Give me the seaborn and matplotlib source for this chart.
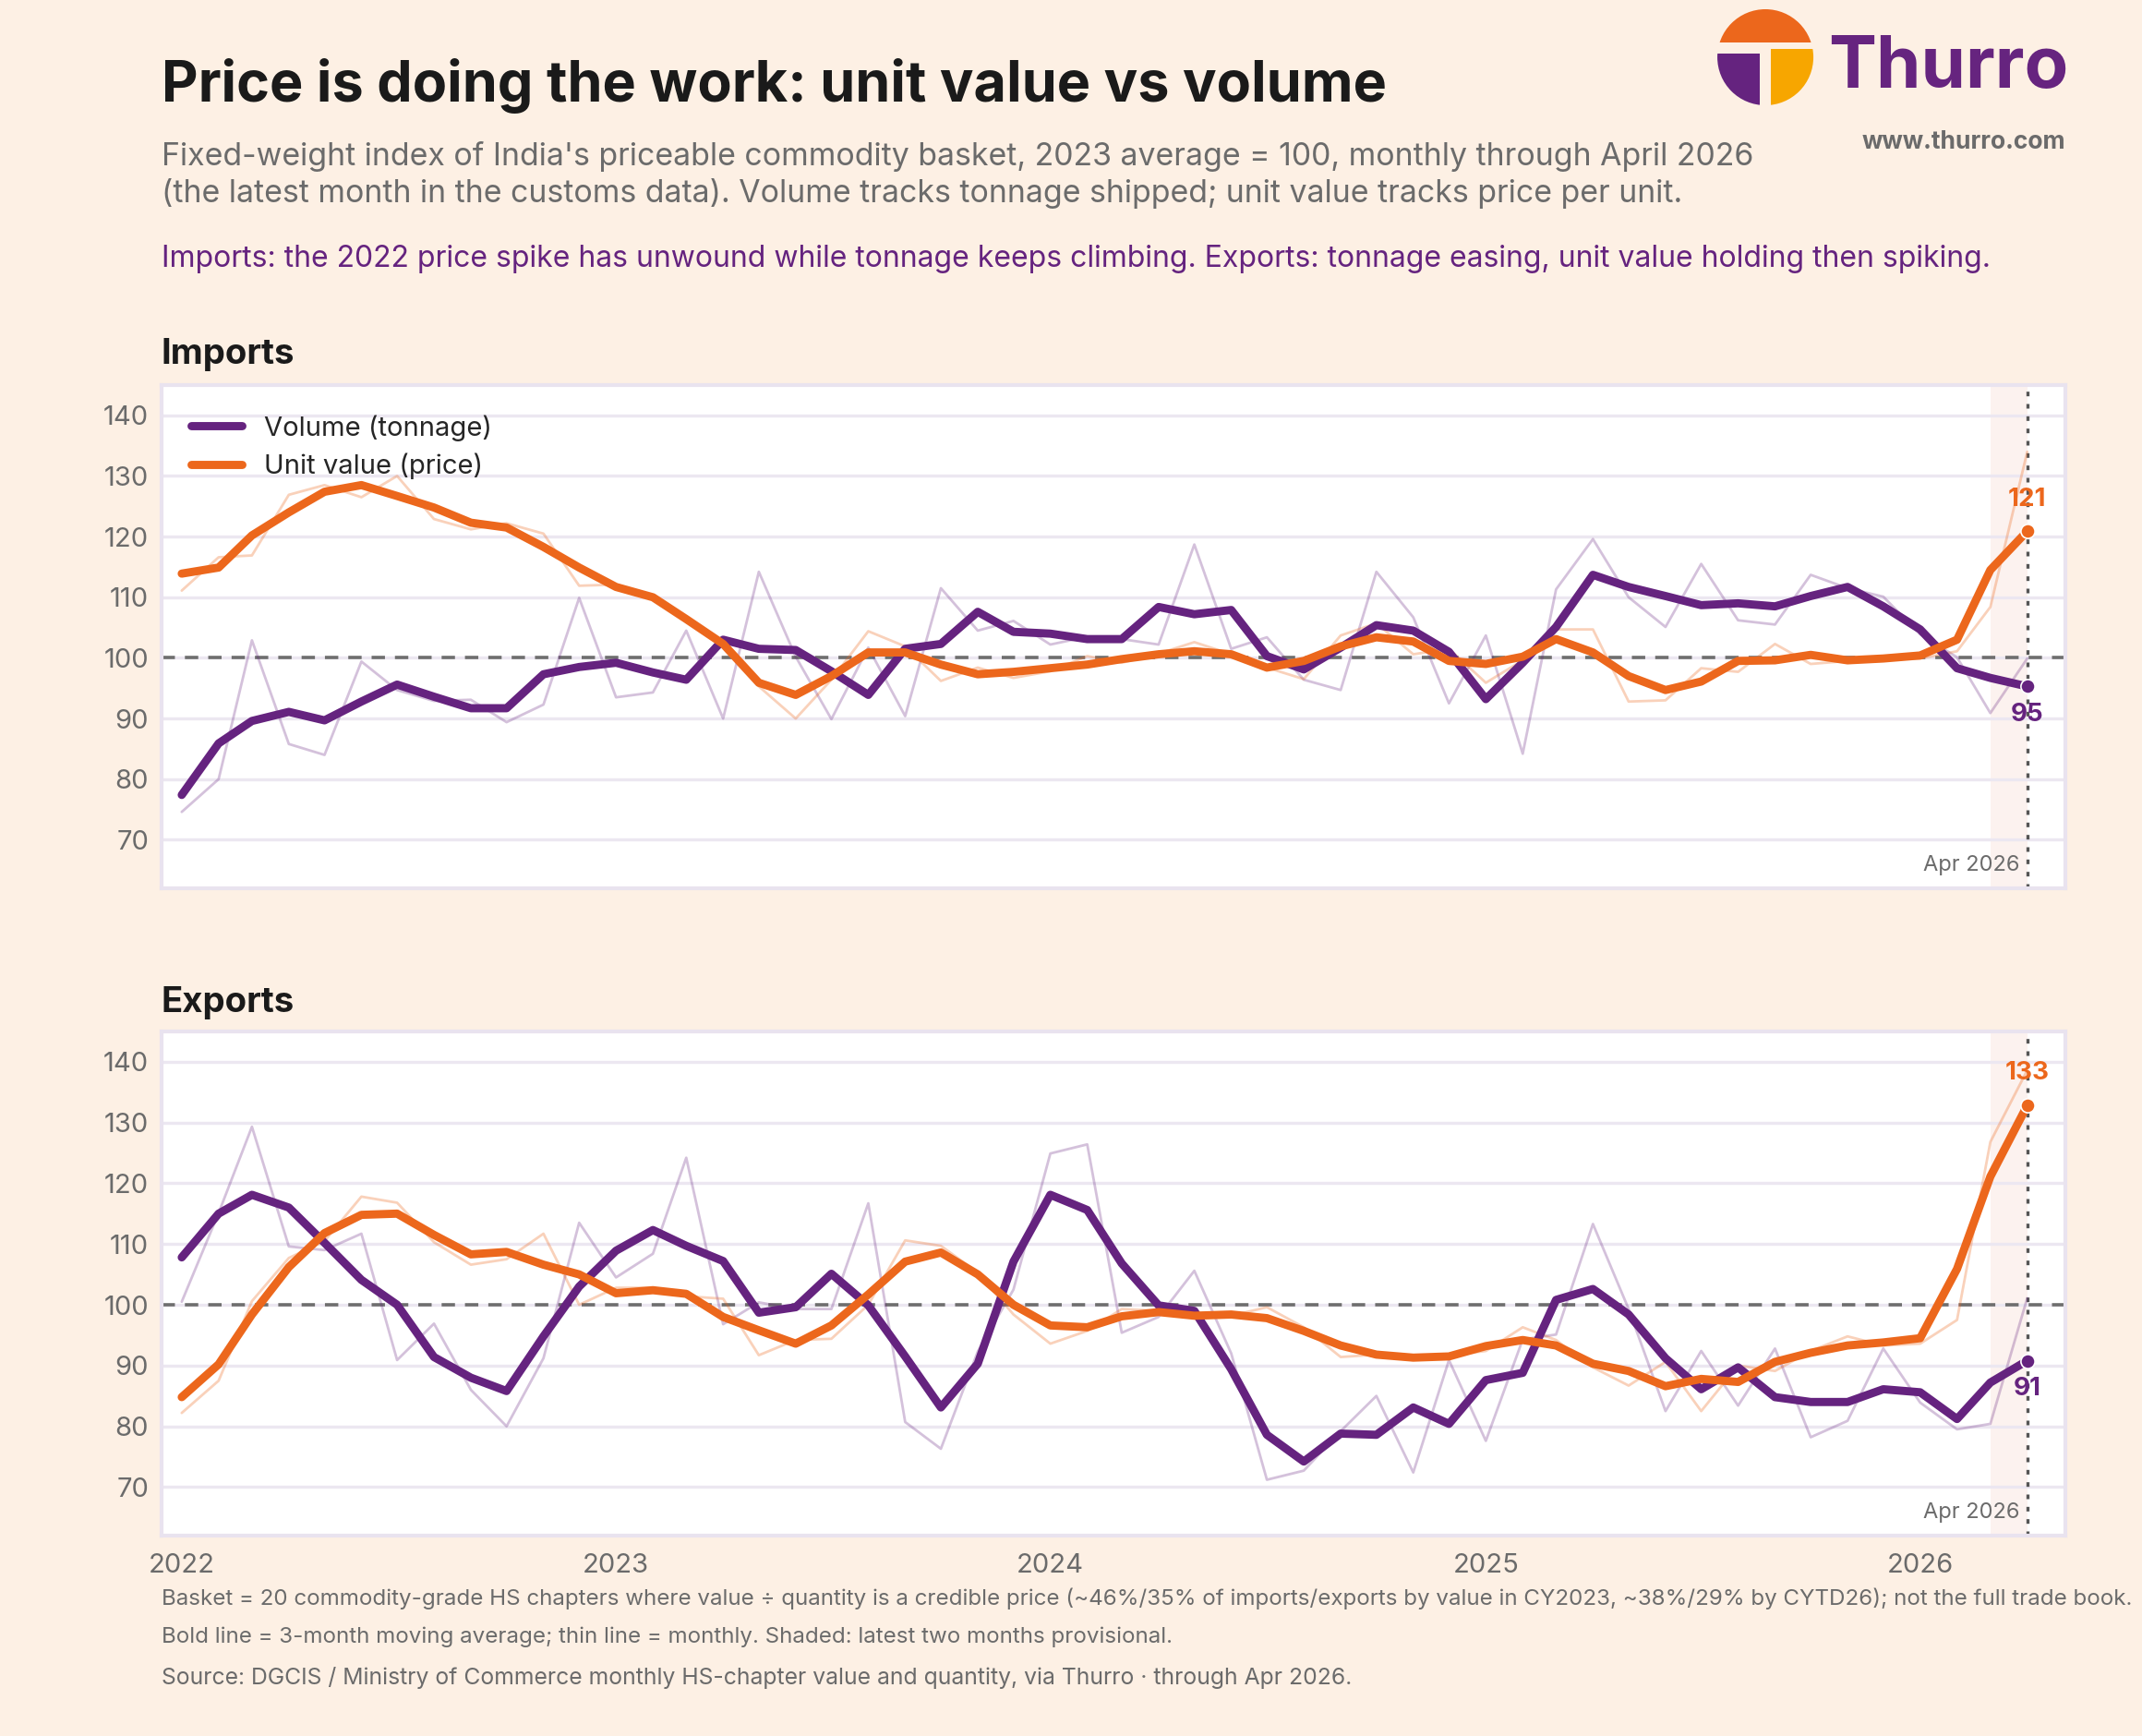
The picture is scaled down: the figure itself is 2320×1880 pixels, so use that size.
import pandas as pd
import matplotlib
matplotlib.use("Agg")
import matplotlib.pyplot as plt
from matplotlib.patches import Circle, Rectangle
import seaborn as sns

# monthly index values, Jan 2022 .. Apr 2026 (2023 avg = 100)
months = pd.date_range("2022-01-01", "2026-04-01", freq="MS")

imp_vol_monthly = [74.6, 80.0, 102.9, 85.8, 84.0, 99.4, 94.7, 92.9, 93.1, 89.4, 92.3, 109.9,
                   93.5, 94.3, 104.5, 90.0, 114.2, 100.2, 89.9, 101.7, 90.4, 111.5, 104.5, 106.1,
                   102.2, 103.5, 103.1, 102.2, 118.7, 101.5, 103.4, 96.4, 94.7, 114.2, 106.7, 92.5,
                   103.7, 84.2, 111.3, 119.6, 110.0, 105.1, 115.5, 106.2, 105.5, 113.7, 111.5, 110.1,
                   103.9, 100.1, 90.9, 99.9]
imp_vol_ma = [77.4, 85.9, 89.6, 91.1, 89.7, 92.8, 95.6, 93.6, 91.7, 91.7, 97.3, 98.5,
              99.2, 97.6, 96.4, 103.0, 101.5, 101.3, 97.8, 93.9, 101.5, 102.3, 107.6, 104.3,
              104.0, 103.1, 103.1, 108.4, 107.2, 107.9, 100.3, 98.1, 101.7, 105.4, 104.5, 101.0,
              93.2, 99.2, 105.1, 113.7, 111.7, 110.2, 108.7, 109.0, 108.5, 110.2, 111.7, 108.5,
              104.7, 98.3, 96.7, 95.3]
imp_uv_monthly = [111.1, 116.6, 116.9, 126.9, 128.5, 126.5, 130.0, 122.9, 121.2, 122.2, 120.5, 111.9,
                  112.1, 109.9, 106.2, 102.5, 95.3, 90.0, 96.4, 104.4, 101.9, 96.2, 98.4, 96.7,
                  97.8, 100.3, 99.2, 100.7, 102.6, 100.6, 98.4, 96.5, 103.7, 105.7, 100.6, 101.5,
                  95.9, 99.6, 104.7, 104.7, 92.8, 93.0, 98.3, 97.7, 102.3, 99.0, 99.5, 99.8,
                  99.9, 101.1, 108.4, 134.0]
imp_uv_ma = [113.9, 114.9, 120.2, 124.0, 127.4, 128.5, 126.7, 124.8, 122.3, 121.5, 118.3, 114.9,
             111.7, 110.0, 106.4, 102.3, 95.9, 93.9, 97.0, 100.9, 100.9, 98.9, 97.3, 97.7,
             98.3, 98.9, 99.8, 100.6, 101.1, 100.6, 98.4, 99.5, 101.9, 103.4, 102.7, 99.5,
             99.0, 100.2, 103.1, 100.9, 97.0, 94.7, 96.1, 99.5, 99.6, 100.5, 99.6, 99.9,
             100.4, 103.0, 114.5, 120.9]

exp_vol_monthly = [100.5, 115.1, 129.3, 109.6, 109.0, 111.7, 90.9, 96.9, 86.0, 80.0, 91.2, 113.5,
                   104.5, 108.4, 124.2, 96.8, 100.4, 99.3, 99.3, 116.7, 80.7, 76.3, 92.3, 102.5,
                   124.9, 126.4, 95.4, 98.0, 105.6, 92.0, 71.2, 72.7, 79.2, 85.0, 72.4, 90.9,
                   77.6, 94.3, 95.1, 113.3, 99.3, 82.5, 92.4, 83.4, 92.8, 78.2, 80.9, 92.8,
                   83.9, 79.5, 80.4, 101.1]
exp_vol_ma = [107.8, 115.0, 118.1, 116.0, 110.2, 104.1, 100.0, 91.4, 88.0, 85.8, 94.8, 103.0,
              108.9, 112.3, 109.7, 107.2, 98.7, 99.6, 105.1, 99.9, 91.5, 83.1, 90.3, 107.1,
              118.1, 115.6, 106.8, 99.9, 99.0, 89.4, 78.6, 74.2, 78.8, 78.6, 83.1, 80.4,
              87.6, 88.8, 100.8, 102.6, 98.4, 91.2, 86.1, 89.7, 84.8, 84.0, 84.0, 86.1,
              85.6, 81.2, 87.2, 90.8]
exp_uv_monthly = [82.2, 87.5, 100.6, 107.7, 110.5, 117.8, 116.8, 110.3, 106.6, 107.5, 111.7, 100.0,
                  102.8, 102.8, 101.4, 101.0, 91.7, 94.2, 94.4, 100.0, 110.6, 109.7, 105.3, 98.4,
                  93.6, 95.7, 99.3, 99.0, 98.1, 98.2, 99.6, 96.3, 91.4, 91.8, 91.4, 91.6,
                  92.4, 96.3, 94.2, 89.7, 86.7, 90.6, 82.5, 90.0, 89.1, 92.4, 94.8, 93.3,
                  93.6, 97.5, 126.8, 138.6]
exp_uv_ma = [84.8, 90.2, 98.4, 106.2, 111.8, 114.8, 115.0, 111.5, 108.3, 108.7, 106.6, 105.0,
             101.9, 102.4, 101.8, 98.0, 95.8, 93.6, 96.6, 101.7, 107.1, 108.6, 105.0, 100.0,
             96.6, 96.3, 98.1, 98.8, 98.2, 98.4, 97.8, 95.7, 93.3, 91.8, 91.3, 91.5,
             93.2, 94.2, 93.3, 90.3, 89.1, 86.6, 87.8, 87.3, 90.6, 92.1, 93.3, 93.8,
             94.5, 105.9, 121.1, 132.8]

year_ticks = pd.to_datetime(["2022-01-01", "2023-01-01", "2024-01-01", "2025-01-01", "2026-01-01"])
year_labels = ["2022", "2023", "2024", "2025", "2026"]

BG = "#FDF0E4"
PURPLE = "#65237F"
ORANGE = "#EC671C"
YELLOW = "#F7A600"
GREY = "#6B6B6B"

sns.set_theme(style="white")
plt.rcParams["font.family"] = ["Inter", "DejaVu Sans"]

fig = plt.figure(figsize=(11.6, 9.4), dpi=200, facecolor=BG)


def draw_panel(ax, vol_m, vol_ma, uv_m, uv_ma, show_legend, show_years):
    ax.set_facecolor("white")
    # provisional months shading + latest month marker
    ax.axvspan(months[-2], months[-1], color="#FBE7E1", alpha=0.5, lw=0, zorder=0)
    ax.axhline(100, color="#6E6E6E", lw=1.3, ls=(0, (4, 3)), zorder=1)
    ax.axvline(months[-1], color="#555555", lw=1.2, ls=(0, (1.5, 2.5)), zorder=1)

    sns.lineplot(x=months, y=vol_m, ax=ax, color=PURPLE, lw=1.0, alpha=0.28, zorder=2)
    sns.lineplot(x=months, y=uv_m, ax=ax, color=ORANGE, lw=1.0, alpha=0.3, zorder=2)
    sns.lineplot(x=months, y=vol_ma, ax=ax, color=PURPLE, lw=3.2, zorder=3,
                 label="Volume (tonnage)")
    sns.lineplot(x=months, y=uv_ma, ax=ax, color=ORANGE, lw=3.2, zorder=4,
                 label="Unit value (price)")

    ax.scatter([months[-1]], [uv_ma[-1]], s=30, color=ORANGE, edgecolor="white", lw=0.6, zorder=5)
    ax.scatter([months[-1]], [vol_ma[-1]], s=30, color=PURPLE, edgecolor="white", lw=0.6, zorder=5)
    ax.annotate(f"{uv_ma[-1]:.0f}", xy=(months[-1], uv_ma[-1]), xytext=(0, 12.5),
                textcoords="offset points", ha="center", va="center",
                fontsize=10, fontweight="bold", color=ORANGE)
    ax.annotate(f"{vol_ma[-1]:.0f}", xy=(months[-1], vol_ma[-1]), xytext=(0, -11),
                textcoords="offset points", ha="center", va="center",
                fontsize=10, fontweight="bold", color=PURPLE)
    ax.annotate("Apr 2026", xy=(months[-1], 0.025), xycoords=("data", "axes fraction"),
                xytext=(-3, 0), textcoords="offset points", ha="right", va="bottom",
                fontsize=8.5, color=GREY)

    ax.set_ylim(62, 145)
    ax.set_yticks(range(70, 141, 10))
    ax.set_xlim(months[0] - pd.Timedelta(days=17), months[-1] + pd.Timedelta(days=32))
    ax.set_xticks(year_ticks)
    ax.set_xticklabels(year_labels if show_years else [])
    ax.set_xlabel("")
    ax.set_ylabel("")
    ax.yaxis.grid(True, color="#ECE7F1", lw=1.2)
    ax.xaxis.grid(False)
    ax.set_axisbelow(True)
    ax.tick_params(axis="both", length=0, labelsize=10.5, labelcolor=GREY)
    ax.tick_params(axis="y", pad=5)
    ax.tick_params(axis="x", pad=7)
    for sp in ax.spines.values():
        sp.set_visible(True)
        sp.set_color("#E9E3EF")
        sp.set_linewidth(1.5)

    if show_legend:
        ax.legend(loc="upper left", frameon=False, fontsize=10.5, handlelength=1.9,
                  handletextpad=0.8, borderaxespad=0.7, labelspacing=0.45)
    else:
        ax.get_legend().remove()


ax_imp = fig.add_axes([0.0754, 0.4883, 0.8888, 0.2899])
ax_exp = fig.add_axes([0.0754, 0.1154, 0.8888, 0.2905])
draw_panel(ax_imp, imp_vol_monthly, imp_vol_ma, imp_uv_monthly, imp_uv_ma, True, False)
draw_panel(ax_exp, exp_vol_monthly, exp_vol_ma, exp_uv_monthly, exp_uv_ma, False, True)

# headings
fig.text(0.0754, 0.9505, "Price is doing the work: unit value vs volume", fontsize=22,
         fontweight="bold", color="#1A1A1A", va="center")
fig.text(0.0754, 0.910, "Fixed-weight index of India's priceable commodity basket, 2023 average = 100, "
         "monthly through April 2026", fontsize=12.2, color=GREY, va="center")
fig.text(0.0754, 0.8885, "(the latest month in the customs data). Volume tracks tonnage shipped; "
         "unit value tracks price per unit.", fontsize=12.2, color=GREY, va="center")
fig.text(0.0754, 0.851, "Imports: the 2022 price spike has unwound while tonnage keeps climbing. "
         "Exports: tonnage easing, unit value holding then spiking.", fontsize=11.5,
         color=PURPLE, va="center")
fig.text(0.0754, 0.796, "Imports", fontsize=13.8, fontweight="bold", color="#1A1A1A", va="center")
fig.text(0.0754, 0.4223, "Exports", fontsize=13.8, fontweight="bold", color="#1A1A1A", va="center")

# footnotes
fig.text(0.0754, 0.0793, "Basket = 20 commodity-grade HS chapters where value \u00f7 quantity is a credible "
         "price (~46%/35% of imports/exports by value in CY2023, ~38%/29% by CYTD26); not the full "
         "trade book.", fontsize=8.7, color=GREY, va="center")
fig.text(0.0754, 0.0569, "Bold line = 3-month moving average; thin line = monthly. Shaded: latest two "
         "months provisional.", fontsize=8.7, color=GREY, va="center")
fig.text(0.0754, 0.0335, "Source: DGCIS / Ministry of Commerce monthly HS-chapter value and quantity, "
         "via Thurro \u00b7 through Apr 2026.", fontsize=8.9, color=GREY, va="center")

# logo
lax = fig.add_axes([0.7996, 0.9367, 0.04914, 0.06064])
lax.set_xlim(-57, 57)
lax.set_ylim(-57, 57)
lax.axis("off")
for (x0, y0, w, h, c) in [(-60, 16, 120, 60, ORANGE), (-60, -60, 54, 64, PURPLE),
                          (6, -60, 54, 69, YELLOW)]:
    rect = Rectangle((x0, y0), w, h, color=c, lw=0)
    lax.add_patch(rect)
    rect.set_clip_path(Circle((0, 0), 52, transform=lax.transData))
fig.text(0.8534, 0.9495, "Thurro", fontsize=28, fontweight="bold", color="#66247F", va="baseline")
fig.text(0.9642, 0.918, "www.thurro.com", fontsize=9.5, fontweight="bold", color=GREY,
         ha="right", va="center")

fig.savefig("out.png", dpi=200, facecolor=BG)
